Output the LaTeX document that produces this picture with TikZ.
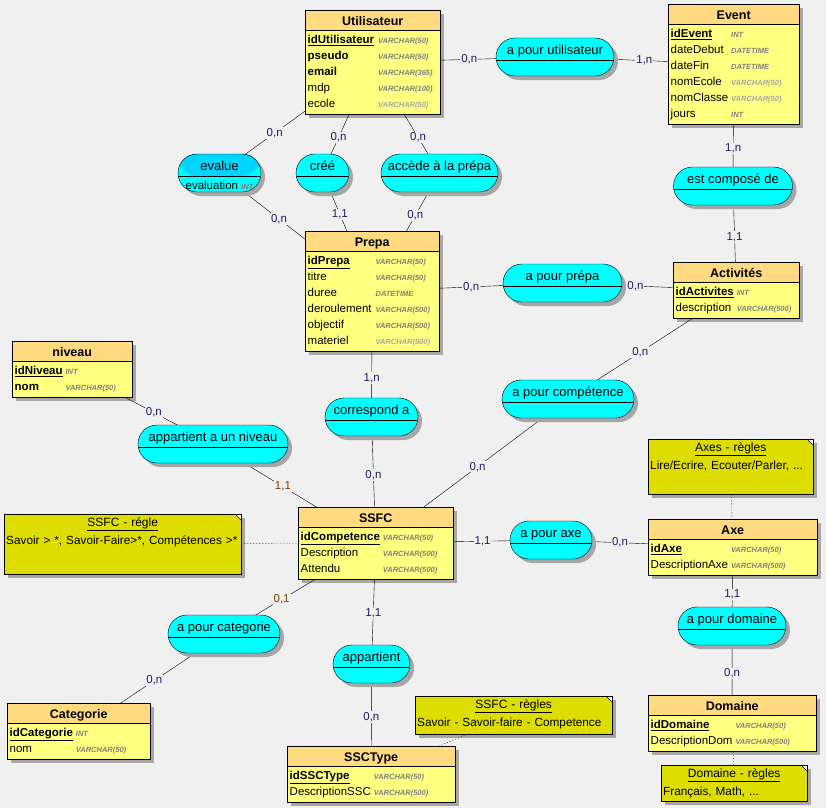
\documentclass[tikz,border=0pt]{standalone}
\usepackage{fontspec}
\setmainfont{Liberation Sans}
\usetikzlibrary{shapes.multipart,shadows,backgrounds}

\definecolor{bgcol}{HTML}{F0F0F0}
\definecolor{enthead}{HTML}{FFDA80}
\definecolor{entbody}{HTML}{FFFF80}
\definecolor{assoccol}{HTML}{00FFFF}
\definecolor{assochead}{HTML}{00D5FF}
\definecolor{notecol}{HTML}{DDDD00}
\definecolor{typgray}{HTML}{808080}
\definecolor{typlight}{HTML}{A8A8A8}
\definecolor{cardblue}{HTML}{1A1A6E}
\definecolor{cardbrown}{HTML}{804000}
\definecolor{shadowcol}{HTML}{A8A8A8}

\newcommand\entfont{\fontsize{11.5}{16}\selectfont}
\newcommand\hdrfont{\fontsize{12.5}{15}\selectfont\bfseries}
\newcommand\assocfont{\fontsize{13}{16}\selectfont}
\newcommand\typfont{\fontsize{7.5}{8}\selectfont\bfseries\itshape}
\newcommand\hdr[1]{{\hdrfont\rule[-3.5pt]{0pt}{17pt}#1}}
\newcommand\typ[1]{{\typfont\color{typgray}#1}}
\newcommand\typl[1]{{\typfont\color{typlight}#1}}
\newcommand\pk[1]{\underline{\textbf{#1}}}
\newcommand\notetitle[1]{{\centering\fontsize{12}{14}\selectfont\underline{#1}\par}\noindent}

\tikzset{
  entity/.style={rectangle split, rectangle split parts=2, draw, anchor=north west,
    rectangle split part fill={enthead,entbody}, rectangle split part align={center,left},
    inner xsep=2.5pt, inner ysep=1.5pt, font=\entfont},
  assoc/.style={rectangle, rounded corners=19pt, draw, fill=assoccol, minimum height=38pt,
    inner xsep=2pt, inner ysep=0pt, text height=16pt, text depth=22pt,
    font=\assocfont,
    drop shadow={shadow xshift=4pt, shadow yshift=-4pt, fill=black!35, opacity=1},
    path picture={\draw ([yshift=-3pt]path picture bounding box.west) -- ([yshift=-3pt]path picture bounding box.east);}},
  assoc attr/.style={assoc,
    path picture={\fill[assochead] (path picture bounding box.north west) rectangle ([yshift=-3pt]path picture bounding box.east);
      \draw ([yshift=-3pt]path picture bounding box.west) -- ([yshift=-3pt]path picture bounding box.east);}},
  note/.style={rectangle, draw, fill=notecol, anchor=north west, align=left,
    inner xsep=2pt, inner ysep=2pt, text height=10pt, font=\fontsize{11.8}{18}\selectfont,
    drop shadow={shadow xshift=4pt, shadow yshift=-4pt, fill=black!35, opacity=1},
    path picture={\fill[white] ([xshift=-6pt]path picture bounding box.north east) -- (path picture bounding box.north east) -- ([yshift=-6pt]path picture bounding box.north east) -- cycle;
      \draw ([xshift=-6pt]path picture bounding box.north east) -- ([yshift=-6pt]path picture bounding box.north east);}},
  notelink/.style={dash pattern=on 1pt off 2pt},
  cardlbl/.style={fill=bgcol, inner sep=1pt, text=cardblue, font=\fontsize{11.5}{14}\selectfont}
}

\begin{document}
\begin{tikzpicture}[x=1pt,y=-1pt]
  \useasboundingbox (0,0) rectangle (826,808);

  % Entities
  \node[entity, minimum width=135pt] (util) at (305,10) {\hdr{Utilisateur}\nodepart{two}\begin{tabular}{@{}l@{\hspace{4pt}}l@{}}
    \pk{idUtilisateur} & \typ{VARCHAR(50)}\\ \textbf{pseudo} & \typ{VARCHAR(50)}\\ \textbf{email} & \typ{VARCHAR(365)}\\
    mdp & \typ{VARCHAR(100)}\\ ecole & \typl{VARCHAR(50)}\end{tabular}};
  \node[entity, minimum width=131pt] (event) at (668,4) {\hdr{Event}\nodepart{two}\begin{tabular}{@{}l@{\hspace{3pt}}l@{}}
    \pk{idEvent} & \typ{INT}\\ dateDebut & \typ{DATETIME}\\ dateFin & \typ{DATETIME}\\
    nomEcole & \typl{VARCHAR(50)}\\ nomClasse & \typl{VARCHAR(50)}\\ jours & \typ{INT}\end{tabular}};
  \node[entity, minimum width=134pt] (prepa) at (305,231) {\hdr{Prepa}\nodepart{two}\begin{tabular}{@{}l@{\hspace{4pt}}l@{}}
    \pk{idPrepa} & \typ{VARCHAR(50)}\\ titre & \typ{VARCHAR(50)}\\ duree & \typ{DATETIME}\\
    deroulement & \typ{VARCHAR(500)}\\ objectif & \typ{VARCHAR(500)}\\ materiel & \typl{VARCHAR(500)}\end{tabular}};
  \node[entity, minimum width=126pt] (activ) at (673,262) {\hdr{Activités}\nodepart{two}\begin{tabular}{@{}l@{\hspace{3pt}}l@{}}
    \pk{idActivites} & \typ{INT}\\ description & \typ{VARCHAR(500)}\end{tabular}};
  \node[entity, minimum width=120pt] (niveau) at (12,341) {\hdr{niveau}\nodepart{two}\begin{tabular}{@{}l@{\hspace{3pt}}l@{}}
    \pk{idNiveau} & \typ{INT}\\ \textbf{nom} & \typ{VARCHAR(50)}\end{tabular}};
  \node[entity, minimum width=155pt] (ssfc) at (298,507) {\hdr{SSFC}\nodepart{two}\begin{tabular}{@{}l@{\hspace{3pt}}l@{}}
    \pk{idCompetence} & \typ{VARCHAR(50)}\\ Description & \typ{VARCHAR(500)}\\ Attendu & \typ{VARCHAR(500)}\end{tabular}};
  \node[entity, minimum width=169pt] (axe) at (648,519) {\hdr{Axe}\nodepart{two}\begin{tabular}{@{}l@{\hspace{3pt}}l@{}}
    \pk{idAxe} & \typ{VARCHAR(50)}\\ DescriptionAxe & \typ{VARCHAR(500)}\end{tabular}};
  \node[entity, minimum width=168pt] (domaine) at (648,695) {\hdr{Domaine}\nodepart{two}\begin{tabular}{@{}l@{\hspace{3pt}}l@{}}
    \pk{idDomaine} & \typ{VARCHAR(50)}\\ DescriptionDom & \typ{VARCHAR(500)}\end{tabular}};
  \node[entity, minimum width=143pt] (categ) at (7,703) {\hdr{Categorie}\nodepart{two}\begin{tabular}{@{}l@{\hspace{3pt}}l@{}}
    \pk{idCategorie} & \typ{INT}\\ nom & \typ{VARCHAR(50)}\end{tabular}};
  \node[entity, minimum width=168pt] (ssctype) at (287,746) {\hdr{SSCType}\nodepart{two}\begin{tabular}{@{}l@{\hspace{3pt}}l@{}}
    \pk{idSSCType} & \typ{VARCHAR(50)}\\ DescriptionSSC & \typ{VARCHAR(500)}\end{tabular}};

  % Associations
  \node[assoc, minimum width=118pt] (apu) at (555,57) {a pour utilisateur};
  \node[assoc attr, minimum width=83pt] (evalue) at (219.5,173)
    {\begin{tabular}[t]{@{}c@{}}evalue\\[3.5pt]{\entfont evaluation \typ{INT}}\end{tabular}};
  \node[assoc, minimum width=53pt] (cree) at (322.5,173) {créé};
  \node[assoc, minimum width=117pt] (accede) at (439.5,173) {accède à la prépa};
  \node[assoc, minimum width=119pt] (estcomp) at (733,186) {est composé de};
  \node[assoc, minimum width=119pt] (apprepa) at (562.5,283) {a pour prépa};
  \node[assoc, minimum width=93pt] (corresp) at (371.5,417) {correspond a};
  \node[assoc, minimum width=132pt] (apcomp) at (568,399) {a pour compétence};
  \node[assoc, minimum width=150pt] (apniv) at (213,444) {appartient a un niveau};
  \node[assoc, minimum width=82pt] (apaxe) at (551,540) {a pour axe};
  \node[assoc, minimum width=112pt] (apcat) at (224,634) {a pour categorie};
  \node[assoc, minimum width=77pt] (appart) at (371.5,664) {appartient};
  \node[assoc, minimum width=108pt] (apdom) at (732,626) {a pour domaine};

  % Notes
  \node[note, text width=233pt, text depth=46pt] (ssfcnote) at (4,514)
    {\notetitle{SSFC - régle}Savoir > *, Savoir-Faire>*, Compétences >*};
  \node[note, text width=161pt, text depth=41pt] (axenote) at (648,439)
    {\notetitle{Axes - règles}Lire/Ecrire, Ecouter/Parler, ...};
  \node[note, text width=193pt, text depth=24pt] (sscnote) at (415,696)
    {\notetitle{SSFC - règles}Savoir - Savoir-faire - Competence};
  \node[note, text width=142pt, text depth=22pt] (domnote) at (661,765)
    {\notetitle{Domaine - règles}Français, Math, ...};

  % Notes to entities
  \draw[notelink] (ssfcnote) -- (ssfc);
  \draw[notelink] (axenote) -- (axe);
  \draw[notelink] (sscnote) -- (ssctype);
  \draw[notelink] (domnote) -- (domaine);

  \begin{scope}[on background layer]
    \fill[bgcol] (0,0) rectangle (826,808);
    % Entity shadows
    \foreach \ent in {util,event,prepa,activ,niveau,ssfc,axe,domaine,categ,ssctype}
      \fill[shadowcol] ([shift={(4pt,-4pt)}]\ent.south west) rectangle ([shift={(4pt,-4pt)}]\ent.north east);

    % Links with cardinalities
    \draw (util.center) -- (apu.center) node[cardlbl, pos=.53] {0,n};
    \draw (apu.center) -- (event.center) node[cardlbl, pos=.5] {1,n};
    \draw (util.center) -- (evalue.center) node[cardlbl, pos=.64] {0,n};
    \draw (evalue.center) -- (prepa.center) node[cardlbl, pos=.39] {0,n};
    \draw (util.center) -- (cree.center) node[cardlbl, pos=.68] {0,n};
    \draw (cree.center) -- (prepa.center) node[cardlbl, pos=.35] {1,1};
    \draw (util.center) -- (accede.center) node[cardlbl, pos=.68] {0,n};
    \draw (accede.center) -- (prepa.center) node[cardlbl, pos=.36] {0,n};
    \draw (event.center) -- (estcomp.center) node[cardlbl, pos=.69] {1,n};
    \draw (estcomp.center) -- (activ.center) node[cardlbl, pos=.49] {1,1};
    \draw (prepa.center) -- (apprepa.center) node[cardlbl, pos=.52] {0,n};
    \draw (apprepa.center) -- (activ.center) node[cardlbl, pos=.42] {0,n};
    \draw (activ.center) -- (apcomp.center) node[cardlbl, pos=.57] {0,n};
    \draw (apcomp.center) -- (ssfc.center) node[cardlbl, pos=.47] {0,n};
    \draw (prepa.center) -- (corresp.center) node[cardlbl, pos=.69] {1,n};
    \draw (corresp.center) -- (ssfc.center) node[cardlbl, pos=.46] {0,n};
    \draw (niveau.center) -- (apniv.center) node[cardlbl, pos=.58] {0,n};
    \draw (apniv.center) -- (ssfc.center) node[cardlbl, text=cardbrown, pos=.43] {1,1};
    \draw (ssfc.center) -- (apaxe.center) node[cardlbl, pos=.61] {1,1};
    \draw (apaxe.center) -- (axe.center) node[cardlbl, pos=.38] {0,n};
    \draw (axe.center) -- (apdom.center) node[cardlbl, pos=.6] {1,1};
    \draw (apdom.center) -- (domaine.center) node[cardlbl, pos=.49] {0,n};
    \draw (ssfc.center) -- (apcat.center) node[cardlbl, text=cardbrown, pos=.62] {0,1};
    \draw (apcat.center) -- (categ.center) node[cardlbl, pos=.48] {0,n};
    \draw (ssfc.center) -- (appart.center) node[cardlbl, pos=.58] {1,1};
    \draw (appart.center) -- (ssctype.center) node[cardlbl, pos=.48] {0,n};
  \end{scope}
\end{tikzpicture}
\end{document}
